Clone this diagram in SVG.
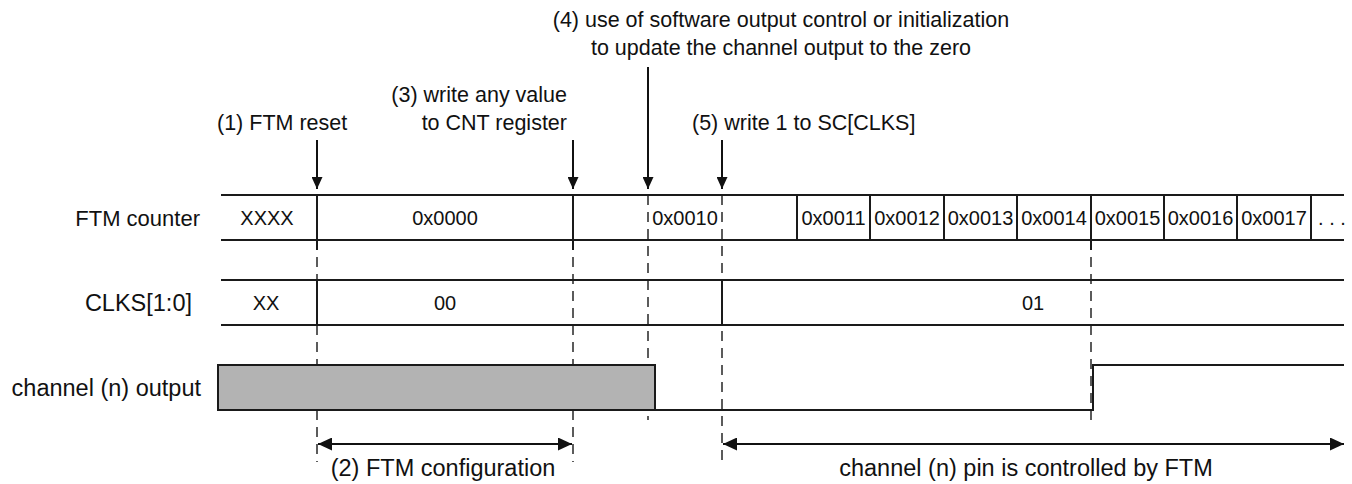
<svg xmlns="http://www.w3.org/2000/svg" width="1352" height="484" viewBox="0 0 1352 484">
<style>
text{font-family:"Liberation Sans",Arial,Helvetica,sans-serif;fill:#111}
.lbl{font-size:23.5px}
.top{font-size:21.5px}
.val{font-size:20px;text-anchor:middle}
.row{stroke:#1a1a1a;stroke-width:2;fill:none}
.edge{stroke:#1a1a1a;stroke-width:2;fill:none}
.dash{stroke:#333;stroke-width:1.6;stroke-dasharray:10 7;fill:none}
.arr{stroke:#111;stroke-width:2;fill:none}
</style>
<defs>
<marker id="ah" viewBox="0 0 12 11" markerUnits="userSpaceOnUse" markerWidth="12" markerHeight="11" refX="12" refY="5.5" orient="auto-start-reverse">
<path d="M0,0 L12,5.5 L0,11 z" fill="#111"/>
</marker>
<marker id="ahb" viewBox="0 0 14 13" markerUnits="userSpaceOnUse" markerWidth="14" markerHeight="13" refX="14" refY="6.5" orient="auto-start-reverse">
<path d="M0,0 L14,6.5 L0,13 z" fill="#111"/>
</marker>
</defs>
<rect width="1352" height="484" fill="#fff"/>

<g id="guides">
<line class="dash" x1="317" y1="240" x2="317" y2="462"/>
<line class="dash" x1="573" y1="240" x2="573" y2="462"/>
<line class="dash" x1="648" y1="195" x2="648" y2="420"/>
<line class="dash" x1="722" y1="195" x2="722" y2="462"/>
<line class="dash" x1="1091" y1="240" x2="1091" y2="422"/>
</g>

<g id="ftm-counter">
<text class="top" x="200" y="226" text-anchor="end" style="font-size:22px">FTM counter</text>
<line class="row" x1="221" y1="195" x2="1344" y2="195"/>
<line class="row" x1="221" y1="240" x2="1344" y2="240"/>
<line class="edge" x1="317" y1="195" x2="317" y2="250"/>
<line class="edge" x1="573" y1="195" x2="573" y2="250"/>
<line class="edge" x1="797" y1="195" x2="797" y2="240"/>
<line class="edge" x1="870" y1="195" x2="870" y2="240"/>
<line class="edge" x1="944" y1="195" x2="944" y2="240"/>
<line class="edge" x1="1017" y1="195" x2="1017" y2="240"/>
<line class="edge" x1="1091" y1="195" x2="1091" y2="250"/>
<line class="edge" x1="1164" y1="195" x2="1164" y2="240"/>
<line class="edge" x1="1237" y1="195" x2="1237" y2="240"/>
<line class="edge" x1="1311" y1="195" x2="1311" y2="240"/>
<text class="val" x="267" y="225">XXXX</text>
<text class="val" x="445" y="225">0x0000</text>
<text class="val" x="685" y="225">0x0010</text>
<text class="val" x="833.5" y="225">0x0011</text>
<text class="val" x="907" y="225">0x0012</text>
<text class="val" x="980.5" y="225">0x0013</text>
<text class="val" x="1054" y="225">0x0014</text>
<text class="val" x="1127.5" y="225">0x0015</text>
<text class="val" x="1200.5" y="225">0x0016</text>
<text class="val" x="1274" y="225">0x0017</text>
<text class="val" x="1332" y="225">. . .</text>
</g>

<g id="clks">
<text class="lbl" x="192" y="311" text-anchor="end">CLKS[1:0]</text>
<line class="row" x1="221" y1="280" x2="1344" y2="280"/>
<line class="row" x1="221" y1="325" x2="1344" y2="325"/>
<line class="edge" x1="317" y1="280" x2="317" y2="325"/>
<line class="edge" x1="722" y1="280" x2="722" y2="325"/>
<text class="val" x="266" y="310">XX</text>
<text class="val" x="445" y="310">00</text>
<text class="val" x="1033" y="310">01</text>
</g>

<g id="channel-output">
<text class="lbl" x="201" y="396" text-anchor="end">channel (n) output</text>
<rect x="218" y="365" width="437" height="45" fill="#b3b3b3" stroke="#1a1a1a" stroke-width="2"/>
<path class="edge" d="M655,365 L655,410 L1093,410 L1093,365 L1344,365"/>
</g>

<g id="label-1">
<text class="top" x="217" y="130">(1) FTM reset</text>
</g>
<g id="label-3">
<text class="top" x="567" y="102" text-anchor="end">(3) write any value</text>
<text class="top" x="567" y="130" text-anchor="end">to CNT register</text>
</g>
<g id="label-4">
<text class="top" x="781" y="27" text-anchor="middle">(4) use of software output control or initialization</text>
<text class="top" x="781" y="55" text-anchor="middle">to update the channel output to the zero</text>
</g>
<g id="label-5">
<text class="top" x="692" y="130">(5) write 1 to SC[CLKS]</text>
</g>
<g id="label-2">
<text class="lbl" x="443" y="476" text-anchor="middle">(2) FTM configuration</text>
</g>
<g id="label-ftm-control">
<text class="lbl" x="1026" y="476" text-anchor="middle">channel (n) pin is controlled by FTM</text>
</g>

<g id="connectors">
<line class="arr" x1="317" y1="140" x2="317" y2="189" marker-end="url(#ah)"/>
<line class="arr" x1="573" y1="140" x2="573" y2="189" marker-end="url(#ah)"/>
<line class="arr" x1="648" y1="67" x2="648" y2="189" marker-end="url(#ah)"/>
<line class="arr" x1="722" y1="140" x2="722" y2="189" marker-end="url(#ah)"/>
<line class="arr" x1="318" y1="444" x2="572" y2="444" marker-start="url(#ahb)" marker-end="url(#ahb)"/>
<line class="arr" x1="723" y1="444" x2="1344" y2="444" marker-start="url(#ahb)" marker-end="url(#ahb)"/>
</g>
</svg>
